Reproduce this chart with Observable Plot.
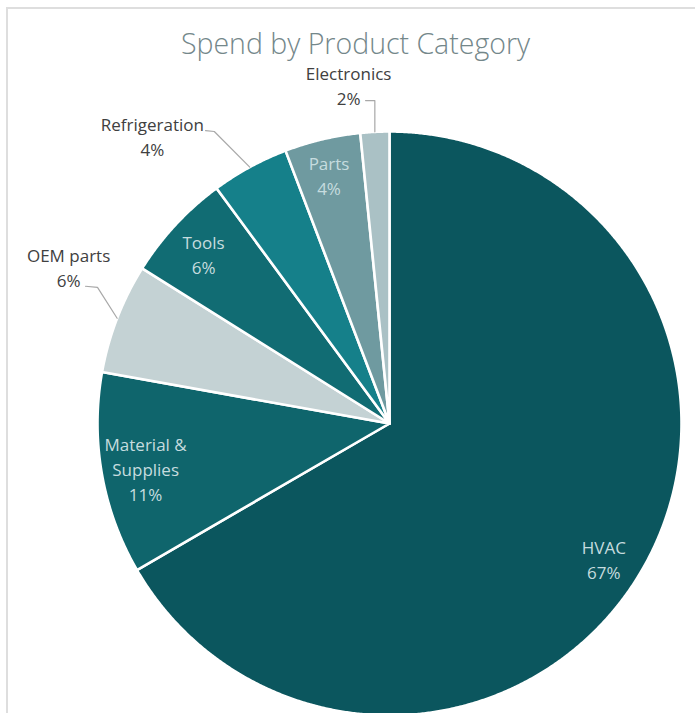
<!DOCTYPE html>
<html><head><meta charset="utf-8">
<script src="https://cdn.jsdelivr.net/npm/d3@7"></script>
<script src="https://cdn.jsdelivr.net/npm/@observablehq/plot@0.6"></script>
<style>
body{margin:0;background:#fff;overflow:hidden}
#wrap{position:relative;width:695px;height:713px;overflow:hidden}
#chart{position:absolute;left:0;top:0}
#frame{position:absolute;left:6px;top:7px;right:-10px;bottom:-10px;border-top:2px solid #dedede;border-left:2px solid #dedede;pointer-events:none}
#title{position:absolute;top:24px;left:0;width:100%;text-align:center;font:300 28.5px "Open Sans",sans-serif;color:#74878a;margin-left:8px}
</style></head><body>
<div id="wrap"><div id="chart"></div><div id="frame"></div><div id="title">Spend by Product Category</div></div>
<script>
const categories = ["HVAC","Material & Supplies","OEM parts","Tools","Refrigeration","Parts","Electronics"];
const values = [66.7, 11.2, 6.1, 6.0, 4.3, 4.2, 1.6];
const labelNames = ["HVAC","Material &\nSupplies","OEM parts","Tools","Refrigeration","Parts","Electronics"];
const colors = ["#0b565e","#0f656c","#c4d2d4","#116c73","#15808a","#6f9aa0","#aac1c5"];
const outside = ["OEM parts","Refrigeration","Electronics"];

// layout (unit-circle coordinates) for the callout labels
const callout = {
  "OEM parts":    {label:[-1.099,0.538], start:[-1.041,0.470], elbow:[-1.0,0.466]},
  "Refrigeration":{label:[-0.812,0.986], start:[-0.630,1.003], elbow:[-0.600,1.0]},
  "Electronics":  {label:[-0.140,1.161], start:[-0.082,1.106], elbow:[null,1.106]}
};
// pixel nudges for inside labels
const nudge = {"HVAC":[-2,10], "Parts":[-3,-6], "Tools":[-3,0], "Material & Supplies":[2,1]};

const total = d3.sum(values);
const arcs = d3.pie().sort(null).value(d => d)(values);
const slices = [];
arcs.forEach((a, i) => {
  slices.push({cat: categories[i], x: 0, y: 0});
  const n = Math.max(4, Math.ceil((a.endAngle - a.startAngle) / 0.005));
  for (let k = 0; k <= n; k++) {
    const t = a.startAngle + (a.endAngle - a.startAngle) * k / n;
    slices.push({cat: categories[i], x: Math.sin(t), y: Math.cos(t)});
  }
  slices.push({cat: categories[i], x: 0, y: 0});
});

const pct = v => Math.round(v / total * 100) + "%";
const mid = a => (a.startAngle + a.endAngle) / 2;

const inside = [], outs = [], leaders = [];
arcs.forEach((a, i) => {
  const cat = categories[i];
  const text = labelNames[i] + "\n" + pct(values[i]);
  if (outside.includes(cat)) {
    const c = callout[cat];
    outs.push({x: c.label[0], y: c.label[1], text});
    const ex = Math.sin(mid(a)), ey = Math.cos(mid(a));
    leaders.push({cat, x: c.start[0], y: c.start[1]});
    leaders.push({cat, x: c.elbow[0] ?? ex, y: c.elbow[1]});
    leaders.push({cat, x: ex, y: ey});
  } else {
    const r = 0.855, n = nudge[cat] || [0, 0];
    inside.push({x: r * Math.sin(mid(a)), y: r * Math.cos(mid(a)), text, dx: n[0], dy: n[1]});
  }
});

const font = "'Open Sans', sans-serif";
const insideMarks = inside.map(d => Plot.text([d], {x: "x", y: "y", text: "text", dx: d.dx, dy: d.dy, fill: "#c6dcdf", fontSize: 17, lineHeight: 1.47, fontFamily: font}));
const chart = Plot.plot({
  width: 695, height: 713, margin: 0,
  x: {domain: [-1, 1], range: [97, 681], axis: null},
  y: {domain: [-1, 1], range: [715, 131], axis: null},
  color: {domain: categories, range: colors},
  style: {fontFamily: font, background: "transparent"},
  marks: [
    Plot.line(slices, {x: "x", y: "y", z: "cat", fill: "cat", stroke: "white", strokeWidth: 2.6, strokeLinejoin: "round", curve: "linear"}),
    Plot.line(leaders, {x: "x", y: "y", z: "cat", stroke: "#a8a8a8", strokeWidth: 1.2, curve: "linear"}),
    ...insideMarks,
    Plot.text(outs, {x: "x", y: "y", text: "text", fill: "#404040", fontSize: 17, lineHeight: 1.47, fontFamily: font})
  ]
});
document.getElementById("chart").appendChild(chart);
</script>
</body></html>
